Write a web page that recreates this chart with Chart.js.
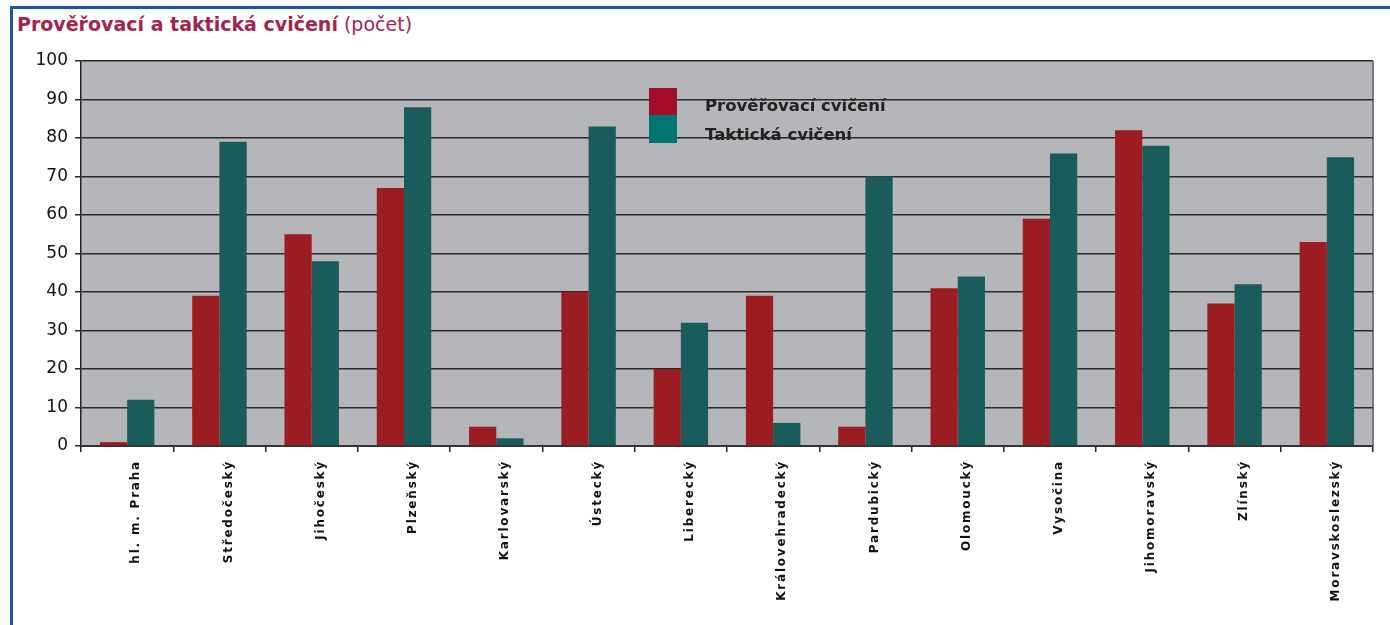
<!DOCTYPE html>
<html>
<head>
<meta charset="utf-8">
<script src="https://cdn.jsdelivr.net/npm/chart.js@4/dist/chart.umd.min.js"></script>
<style>
  html, body { margin: 0; padding: 0; background: #fff; }
  #wrap { position: relative; width: 1390px; height: 625px; overflow: hidden; }
  #frame { position: absolute; left: 10px; top: 6px; right: -5px; bottom: -5px;
           border-left: 3px solid #1b55a5; border-top: 3px solid #1b55a5; }
  #title { position: absolute; left: 17px; top: 13px; font-family: "DejaVu Sans", sans-serif;
           font-size: 19px; color: #a2254a; white-space: nowrap; }
  #title b { font-weight: 700; }
  canvas { position: absolute; left: 0; top: 0; }
</style>
</head>
<body>
<div id="wrap">
  <div id="frame"></div>
  <div id="title"><b>Prověřovací a taktická cvičení</b> (počet)</div>
  <canvas id="chart" width="1390" height="625"></canvas>
</div>
<script>
const regions = ['hl. m. Praha', 'Středočeský', 'Jihočeský', 'Plzeňský', 'Karlovarský', 'Ústecký',
  'Liberecký', 'Královehradecký', 'Pardubický', 'Olomoucký', 'Vysočina', 'Jihomoravský',
  'Zlínský', 'Moravskoslezský'];
const proverovaci = [1, 39, 55, 67, 5, 40, 20, 39, 5, 41, 59, 82, 37, 53];
const takticka = [12, 79, 48, 88, 2, 83, 32, 6, 70, 44, 76, 78, 42, 75];
const seriesNames = ['Prověřovací cvičení', 'Taktická cvičení'];
const legendColors = ['#a30d2a', '#007673'];

const plotBg = {
  id: 'plotBg',
  beforeDraw(chart) {
    const { ctx, chartArea: a } = chart;
    ctx.save();
    ctx.fillStyle = '#b5b6ba';
    ctx.fillRect(a.left, a.top, a.right - a.left, a.bottom - a.top);
    ctx.strokeStyle = '#7a7a7c';
    ctx.lineWidth = 2;
    ctx.beginPath();
    ctx.moveTo(a.right, a.top);
    ctx.lineTo(a.right, a.bottom);
    ctx.stroke();
    ctx.restore();
  },
  afterDraw(chart) {
    // legend inside the plot
    const { ctx } = chart;
    ctx.save();
    ctx.fillStyle = legendColors[0];
    ctx.fillRect(649, 88, 28, 27);
    ctx.fillStyle = legendColors[1];
    ctx.fillRect(649, 115, 28, 28);
    ctx.fillStyle = '#222';
    ctx.font = 'bold 16.5px "DejaVu Sans", sans-serif';
    ctx.textBaseline = 'middle';
    ctx.fillText(seriesNames[0], 705, 107);
    ctx.fillText(seriesNames[1], 705, 136);
    ctx.restore();
  }
};

const ctx = document.getElementById('chart').getContext('2d');
const chart = new Chart(ctx, {
  type: 'bar',
  data: {
    labels: regions,
    datasets: [
      { label: seriesNames[0], data: proverovaci, backgroundColor: '#9b1d22' },
      { label: seriesNames[1], data: takticka, backgroundColor: '#195c5b' }
    ]
  },
  options: {
    responsive: false,
    animation: false,
    layout: { padding: { left: 0, top: 61, right: 17, bottom: 0 } },
    datasets: { bar: { barPercentage: 1, categoryPercentage: 0.59 } },
    plugins: { legend: { display: false }, tooltip: { enabled: false } },
    scales: {
      x: {
        afterFit(scale) { scale.height = 179; },
        grid: { drawOnChartArea: false, offset: true, tickLength: 6, color: '#222', lineWidth: 1.5 },
        border: { color: '#333', width: 2 },
        ticks: {
          autoSkip: false, maxRotation: 90, minRotation: 90, padding: 8, labelOffset: 9,
          color: '#111', font: { family: '"DejaVu Sans", sans-serif', size: 12, weight: 'bold' }
        }
      },
      y: {
        min: 0, max: 100,
        afterFit(scale) { scale.width = 81; },
        grid: { color: '#2a2a2a', lineWidth: 1.5, tickLength: 6 },
        border: { color: '#222', width: 1.5 },
        ticks: {
          stepSize: 10, padding: 7, color: '#111',
          font: { family: '"DejaVu Sans", sans-serif', size: 17 }
        }
      }
    }
  },
  plugins: [plotBg]
});

// spaced-out category labels
const xs = chart.scales.x;
const origDrawLabels = xs.drawLabels;
xs.drawLabels = function (area) {
  this.ctx.save();
  this.ctx.letterSpacing = '1.8px';
  origDrawLabels.call(this, area);
  this.ctx.restore();
};
chart.draw();
</script>
</body>
</html>
